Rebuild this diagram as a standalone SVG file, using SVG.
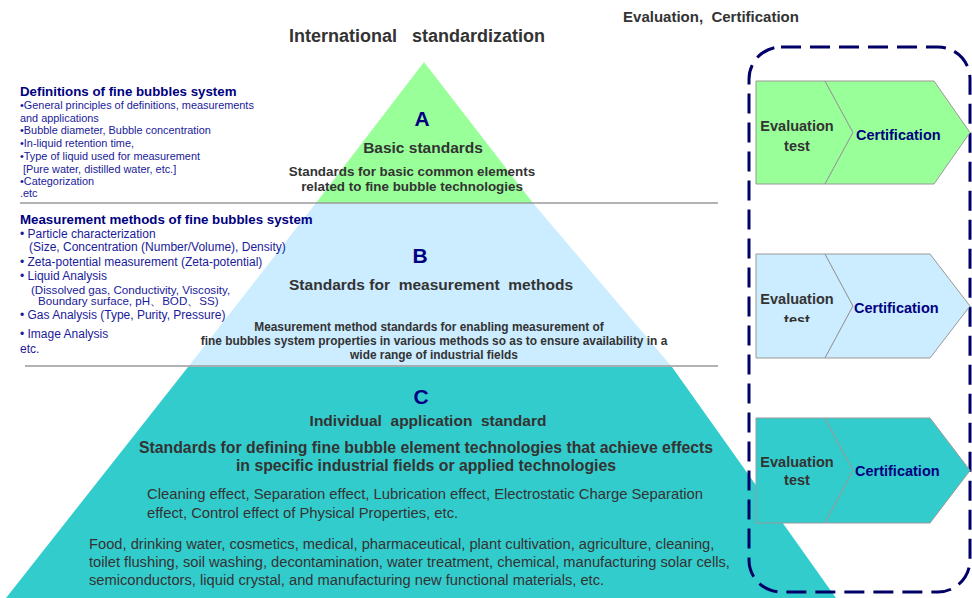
<svg xmlns="http://www.w3.org/2000/svg" width="972" height="598" viewBox="0 0 972 598">
<style>
.t{font-family:"Liberation Sans",Arial,sans-serif;}
.b{font-weight:bold;}
.dk{fill:#333333;}
.nv{fill:#000080;}
.ls{fill:#1a1a9a;font-size:10.9px;}
.ls2{fill:#1a1a9a;font-size:12px;}
.ls3{fill:#1a1a9a;font-size:11.6px;}
.letter{font-size:21px;font-weight:bold;fill:#000080;}
.sep{stroke:#9a9a9a;stroke-width:1.5;}
.chev{stroke:#999999;stroke-width:1;}
.ev{font-size:14.5px;font-weight:bold;fill:#333333;}
.ce{font-size:14.5px;font-weight:bold;fill:#000080;}
</style>
<defs>
<clipPath id="clip-b2"><rect x="756" y="254" width="100" height="68"/></clipPath>
</defs>
<rect width="972" height="598" fill="#ffffff"/>

<g id="titles">
<text class="t b dk" x="417" y="42" font-size="18" text-anchor="middle" xml:space="preserve">International   standardization</text>
<text class="t b dk" x="711" y="22" font-size="15" text-anchor="middle" xml:space="preserve">Evaluation,  Certification</text>
</g>

<g id="layer-A">
<polygon points="424,62 533,203 316,203" fill="#99FF99"/>
<text class="t letter" x="422" y="126" text-anchor="middle">A</text>
<text class="t b dk" x="423" y="153" font-size="15.5" text-anchor="middle">Basic standards</text>
<text class="t b dk" x="412" y="176" font-size="13.4" text-anchor="middle">Standards for basic common elements</text>
<text class="t b dk" x="412" y="191" font-size="13.4" text-anchor="middle">related to fine bubble technologies</text>
</g>

<g id="layer-B">
<polygon points="316,203 533,203 672,367 188,367" fill="#CCECFF"/>
<text class="t letter" x="420" y="263" text-anchor="middle">B</text>
<text class="t b dk" x="431" y="290" font-size="15.5" text-anchor="middle" xml:space="preserve" textLength="284">Standards for  measurement  methods</text>
<text class="t b dk" x="429" y="331" font-size="11.9" text-anchor="middle">Measurement method standards for enabling measurement of</text>
<text class="t b dk" x="434" y="345" font-size="11.9" text-anchor="middle">fine bubbles system properties in various methods so as to ensure availability in a</text>
<text class="t b dk" x="434" y="359" font-size="11.9" text-anchor="middle">wide range of industrial fields</text>
</g>

<g id="layer-C">
<polygon points="188,367 672,367 836,598 6,598" fill="#33CCCC"/>
<text class="t letter" x="421" y="404" text-anchor="middle">C</text>
<text class="t b dk" x="428" y="426" font-size="15.5" text-anchor="middle" xml:space="preserve">Individual  application  standard</text>
<text class="t b dk" x="426" y="453" font-size="15.8" text-anchor="middle">Standards for defining fine bubble element technologies that achieve effects</text>
<text class="t b dk" x="426" y="471" font-size="15.8" text-anchor="middle">in specific industrial fields or applied technologies</text>
<text class="t dk" x="147" y="499" font-size="14.8">Cleaning effect, Separation effect, Lubrication effect, Electrostatic Charge Separation</text>
<text class="t dk" x="147" y="518" font-size="14.8">effect, Control effect of Physical Properties, etc.</text>
<text class="t dk" x="89" y="549" font-size="14.7">Food, drinking water, cosmetics, medical, pharmaceutical, plant cultivation, agriculture, cleaning,</text>
<text class="t dk" x="89" y="567" font-size="14.7">toilet flushing, soil washing, decontamination, water treatment, chemical, manufacturing solar cells,</text>
<text class="t dk" x="89" y="585" font-size="14.7">semiconductors, liquid crystal, and manufacturing new functional materials, etc.</text>
</g>

<g id="separators">
<line class="sep" x1="20" y1="203" x2="718" y2="203"/>
<line class="sep" x1="25" y1="366" x2="718" y2="366"/>
</g>

<g id="left-A">
<text class="t b nv" x="20" y="96" font-size="13.3">Definitions of fine bubbles system</text>
<text class="t ls" x="20" y="109">•General principles of definitions, measurements</text>
<text class="t ls" x="20" y="122">and applications</text>
<text class="t ls" x="20" y="134">•Bubble diameter, Bubble concentration</text>
<text class="t ls" x="20" y="147">•In-liquid retention time,</text>
<text class="t ls" x="20" y="160">•Type of liquid used for measurement</text>
<text class="t ls" x="20" y="173" xml:space="preserve"> [Pure water, distilled water, etc.]</text>
<text class="t ls" x="20" y="185">•Categorization</text>
<text class="t ls" x="20" y="197">.etc</text>
</g>

<g id="left-B">
<text class="t b nv" x="20" y="224" font-size="13.3">Measurement methods of fine bubbles system</text>
<text class="t ls2" x="20" y="238">• Particle characterization</text>
<text class="t ls2" x="29" y="251">(Size, Concentration (Number/Volume), Density)</text>
<text class="t ls2" x="20" y="266">• Zeta-potential measurement (Zeta-potential)</text>
<text class="t ls2" x="20" y="280">• Liquid Analysis</text>
<text class="t ls3" x="31" y="294">(Dissolved gas, Conductivity, Viscosity,</text>
<text class="t ls3" x="38" y="305">Boundary surface, pH、BOD、SS)</text>
<text class="t ls2" x="20" y="319">• Gas Analysis (Type, Purity, Pressure)</text>
<text class="t ls2" x="20" y="338">• Image Analysis</text>
<text class="t ls2" x="20" y="353">etc.</text>
</g>

<g id="frame">
<rect x="749" y="47" width="221" height="545" rx="32" fill="none" stroke="#000066" stroke-width="3" stroke-dasharray="20 9"/>
</g>

<g id="box-1">
<polygon class="chev" points="756,81 825,81 853,132.5 825,184 756,184" fill="#99FF99"/>
<polygon class="chev" points="825,81 934,81 970,132.5 934,184 825,184 853,132.5" fill="#99FF99"/>
<text class="t ev" x="797" y="131" text-anchor="middle">Evaluation</text>
<text class="t ev" x="797" y="151" text-anchor="middle">test</text>
<text class="t ce" x="856" y="140">Certification</text>
</g>

<g id="box-2">
<polygon class="chev" points="756,254 825,254 853,306 825,358 756,358" fill="#CCECFF"/>
<polygon class="chev" points="825,254 930,254 970,306 930,358 825,358 853,306" fill="#CCECFF"/>
<text class="t ev" x="797" y="304" text-anchor="middle">Evaluation</text>
<text class="t ev" x="797" y="325" text-anchor="middle" clip-path="url(#clip-b2)">test</text>
<text class="t ce" x="854" y="313">Certification</text>
</g>

<g id="box-3">
<polygon class="chev" points="756,418 825,418 853,470.5 825,523 756,523" fill="#33CCCC"/>
<polygon class="chev" points="825,418 930,418 970,470.5 930,523 825,523 853,470.5" fill="#33CCCC"/>
<text class="t ev" x="797" y="467" text-anchor="middle">Evaluation</text>
<text class="t ev" x="797" y="485" text-anchor="middle">test</text>
<text class="t ce" x="855" y="476">Certification</text>
</g>
</svg>
